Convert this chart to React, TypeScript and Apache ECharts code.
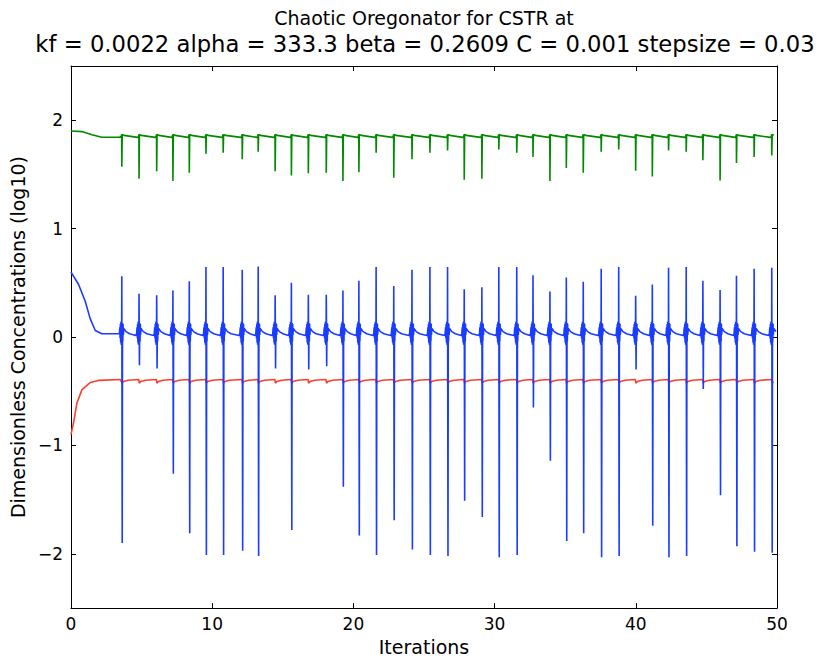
import React, { useEffect, useRef } from "react";
import * as echarts from "echarts";

// Spike times (iterations)
const spikeTimes = [
  3.6, 4.82, 6.07, 7.22, 8.38, 9.56, 10.78, 12.13, 13.26, 14.46, 15.61, 16.81, 18.08,
  19.26, 20.39, 21.61, 22.86, 24.15, 25.42, 26.67, 27.85, 29.1, 30.3, 31.57, 32.72,
  33.92, 35.08, 36.28, 37.55, 38.79, 39.99, 41.17, 42.32, 43.57, 44.75, 45.97, 47.13,
  48.38, 49.63,
];
const bluePeaks = [
  0.56, 0.4, 0.385, 0.43, 0.515, 0.645, 0.645, 0.62, 0.65, 0.385, 0.5, 0.39, 0.39,
  0.43, 0.52, 0.645, 0.47, 0.62, 0.645, 0.645, 0.44, 0.46, 0.645, 0.645, 0.57, 0.42,
  0.55, 0.51, 0.63, 0.645, 0.38, 0.485, 0.64, 0.645, 0.52, 0.435, 0.565, 0.63, 0.64,
];
const blueTroughs = [
  -1.9, -0.26, -0.29, -1.26, -1.81, -2.01, -2.01, -1.97, -2.02, -0.29, -1.78, -0.3,
  -0.27, -1.38, -1.83, -2.01, -1.69, -1.96, -2.01, -2.02, -1.51, -1.66, -2.03, -2.01,
  -0.65, -1.14, -1.88, -1.81, -2.03, -2.02, -0.3, -1.74, -2.03, -2.02, -0.48, -1.46,
  -1.93, -1.98, -1.99,
];
const greenTroughs = [
  1.57, 1.46, 1.53, 1.44, 1.515, 1.69, 1.7, 1.64, 1.71, 1.53, 1.49, 1.51, 1.515, 1.44,
  1.52, 1.7, 1.47, 1.64, 1.7, 1.72, 1.45, 1.46, 1.73, 1.7, 1.66, 1.44, 1.56, 1.515,
  1.71, 1.73, 1.535, 1.48, 1.72, 1.71, 1.63, 1.445, 1.605, 1.66, 1.675,
];

// Initial transients
const blueStartT = [0, 0.19, 0.54, 1.01, 1.36, 1.72, 2.19, 3.3];
const blueStartV = [0.6, 0.56, 0.485, 0.33, 0.17, 0.06, 0.03, 0.03];
const greenStartT = [0, 0.78, 1.48, 2.19, 3.45];
const greenStartV = [1.9, 1.895, 1.865, 1.843, 1.843];
const redStartT = [0, 0.2, 0.42, 0.78, 1.36, 1.95, 3.5];
const redStartV = [-0.9, -0.78, -0.61, -0.485, -0.42, -0.4, -0.392];

// Baseline levels between spikes
const blueLevels = [0.08, 0.05, 0.03, 0.015];
const greenLevels = [1.87, 1.86, 1.842];
const redLevels = [-0.425, -0.41, -0.398, -0.392];

const xTicks = [0, 10, 20, 30, 40, 50];
const yTicks = [-2, -1, 0, 1, 2];

const titleLine1 = "Chaotic Oregonator for CSTR at";
const titleLine2 = "kf = 0.0022 alpha = 333.3 beta = 0.2609 C = 0.001 stepsize = 0.03";

function buildBlue(): number[][] {
  const pts: number[][] = blueStartT.map((t, i) => [t, blueStartV[i]]);
  spikeTimes.forEach((s, i) => {
    const next = i + 1 < spikeTimes.length ? spikeTimes[i + 1] : 50.3;
    pts.push(
      [s - 0.17, 0.03], [s - 0.14, 0.09], [s - 0.12, -0.01], [s - 0.1, 0.12],
      [s - 0.08, -0.05], [s - 0.06, 0.14], [s - 0.04, -0.07], [s - 0.02, 0.12],
      [s - 0.01, 0.02], [s, bluePeaks[i]], [s + 0.03, blueTroughs[i]],
      [s + 0.05, 0.13], [s + 0.07, -0.04], [s + 0.09, 0.12], [s + 0.11, 0.02],
      [s + 0.14, blueLevels[0]], [s + 0.3, blueLevels[1]], [s + 0.55, blueLevels[2]],
      [next - 0.22, blueLevels[3]]
    );
  });
  return pts.filter((p) => p[0] <= 50);
}

function buildGreen(): number[][] {
  const pts: number[][] = greenStartT.map((t, i) => [t, greenStartV[i]]);
  spikeTimes.forEach((s, i) => {
    const next = i + 1 < spikeTimes.length ? spikeTimes[i + 1] : 50.3;
    pts.push(
      [s - 0.04, 1.85], [s - 0.01, greenLevels[0]], [s, greenTroughs[i]],
      [s + 0.03, greenLevels[0]], [s + 0.15, greenLevels[1]], [next - 0.1, greenLevels[2]]
    );
  });
  return pts.filter((p) => p[0] <= 50);
}

function buildRed(): number[][] {
  const pts: number[][] = redStartT.map((t, i) => [t, redStartV[i]]);
  spikeTimes.forEach((s, i) => {
    const next = i + 1 < spikeTimes.length ? spikeTimes[i + 1] : 50.3;
    pts.push(
      [s + 0.02, redLevels[0]], [s + 0.12, redLevels[1]], [s + 0.45, redLevels[2]],
      [next - 0.02, redLevels[3]]
    );
  });
  return pts.filter((p) => p[0] <= 50);
}

const FONT = "DejaVu Sans";
const minus = (v: number) => String(v).replace("-", "\u2212");

export default function App() {
  const ref = useRef<HTMLDivElement>(null);
  useEffect(() => {
    if (!ref.current) return;
    const chart = echarts.init(ref.current, null, { renderer: "svg" });
    const tick = { show: true, inside: true, length: 5, lineStyle: { color: "#000" } };
    const line = { show: true, onZero: false, lineStyle: { color: "#000", width: 1 } };
    chart.setOption({
      animation: false,
      backgroundColor: "#fff",
      graphic: [
        {
          type: "text",
          x: 424,
          y: 18,
          style: {
            text: titleLine1,
            fontFamily: FONT,
            fontSize: 19,
            fill: "#000",
            textAlign: "center",
            textVerticalAlign: "middle",
          },
        },
        {
          type: "text",
          x: 425,
          y: 44,
          style: {
            text: titleLine2,
            fontFamily: FONT,
            fontSize: 22.7,
            fill: "#000",
            textAlign: "center",
            textVerticalAlign: "middle",
          },
        },
      ],
      grid: { left: 69, right: 46, top: 66, bottom: 48, containLabel: false },
      xAxis: [
        {
          type: "value",
          min: 0,
          max: 50,
          interval: 10,
          position: "bottom",
          axisLine: line,
          splitLine: { show: false },
          axisTick: tick,
          axisLabel: { fontFamily: FONT, fontSize: 17, color: "#000", margin: 7, customValues: xTicks },
          name: "Iterations",
          nameLocation: "middle",
          nameGap: 28,
          nameTextStyle: { fontFamily: FONT, fontSize: 19, color: "#000" },
        },
        {
          type: "value",
          min: 0,
          max: 50,
          interval: 10,
          position: "top",
          axisLine: line,
          splitLine: { show: false },
          axisTick: tick,
          axisLabel: { show: false },
        },
      ],
      yAxis: [
        {
          type: "value",
          min: -2.5,
          max: 2.5,
          position: "left",
          axisLine: line,
          splitLine: { show: false },
          axisTick: { ...tick, customValues: yTicks },
          axisLabel: {
            fontFamily: FONT,
            fontSize: 17,
            color: "#000",
            margin: 8,
            customValues: yTicks,
            formatter: (v: number) => minus(v),
          },
          name: "Dimensionless Concentrations (log10)",
          nameLocation: "middle",
          nameGap: 39,
          nameRotate: 90,
          nameTextStyle: { fontFamily: FONT, fontSize: 19, color: "#000" },
        },
        {
          type: "value",
          min: -2.5,
          max: 2.5,
          position: "right",
          axisLine: line,
          splitLine: { show: false },
          axisTick: { ...tick, customValues: yTicks },
          axisLabel: { show: false },
        },
      ],
      series: [
        {
          type: "line",
          data: buildGreen(),
          showSymbol: false,
          lineStyle: { color: "#008a00", width: 1.6 },
          itemStyle: { color: "#008a00" },
        },
        {
          type: "line",
          data: buildRed(),
          showSymbol: false,
          lineStyle: { color: "#ff3d2e", width: 1.6 },
          itemStyle: { color: "#ff3d2e" },
        },
        {
          type: "line",
          data: buildBlue(),
          showSymbol: false,
          lineStyle: { color: "#1a3cff", width: 1.6 },
          itemStyle: { color: "#1a3cff" },
        },
      ],
    });
    return () => chart.dispose();
  }, []);
  return <div ref={ref} style={{ width: 823, height: 661, position: "absolute", left: 0, top: 0 }} />;
}
